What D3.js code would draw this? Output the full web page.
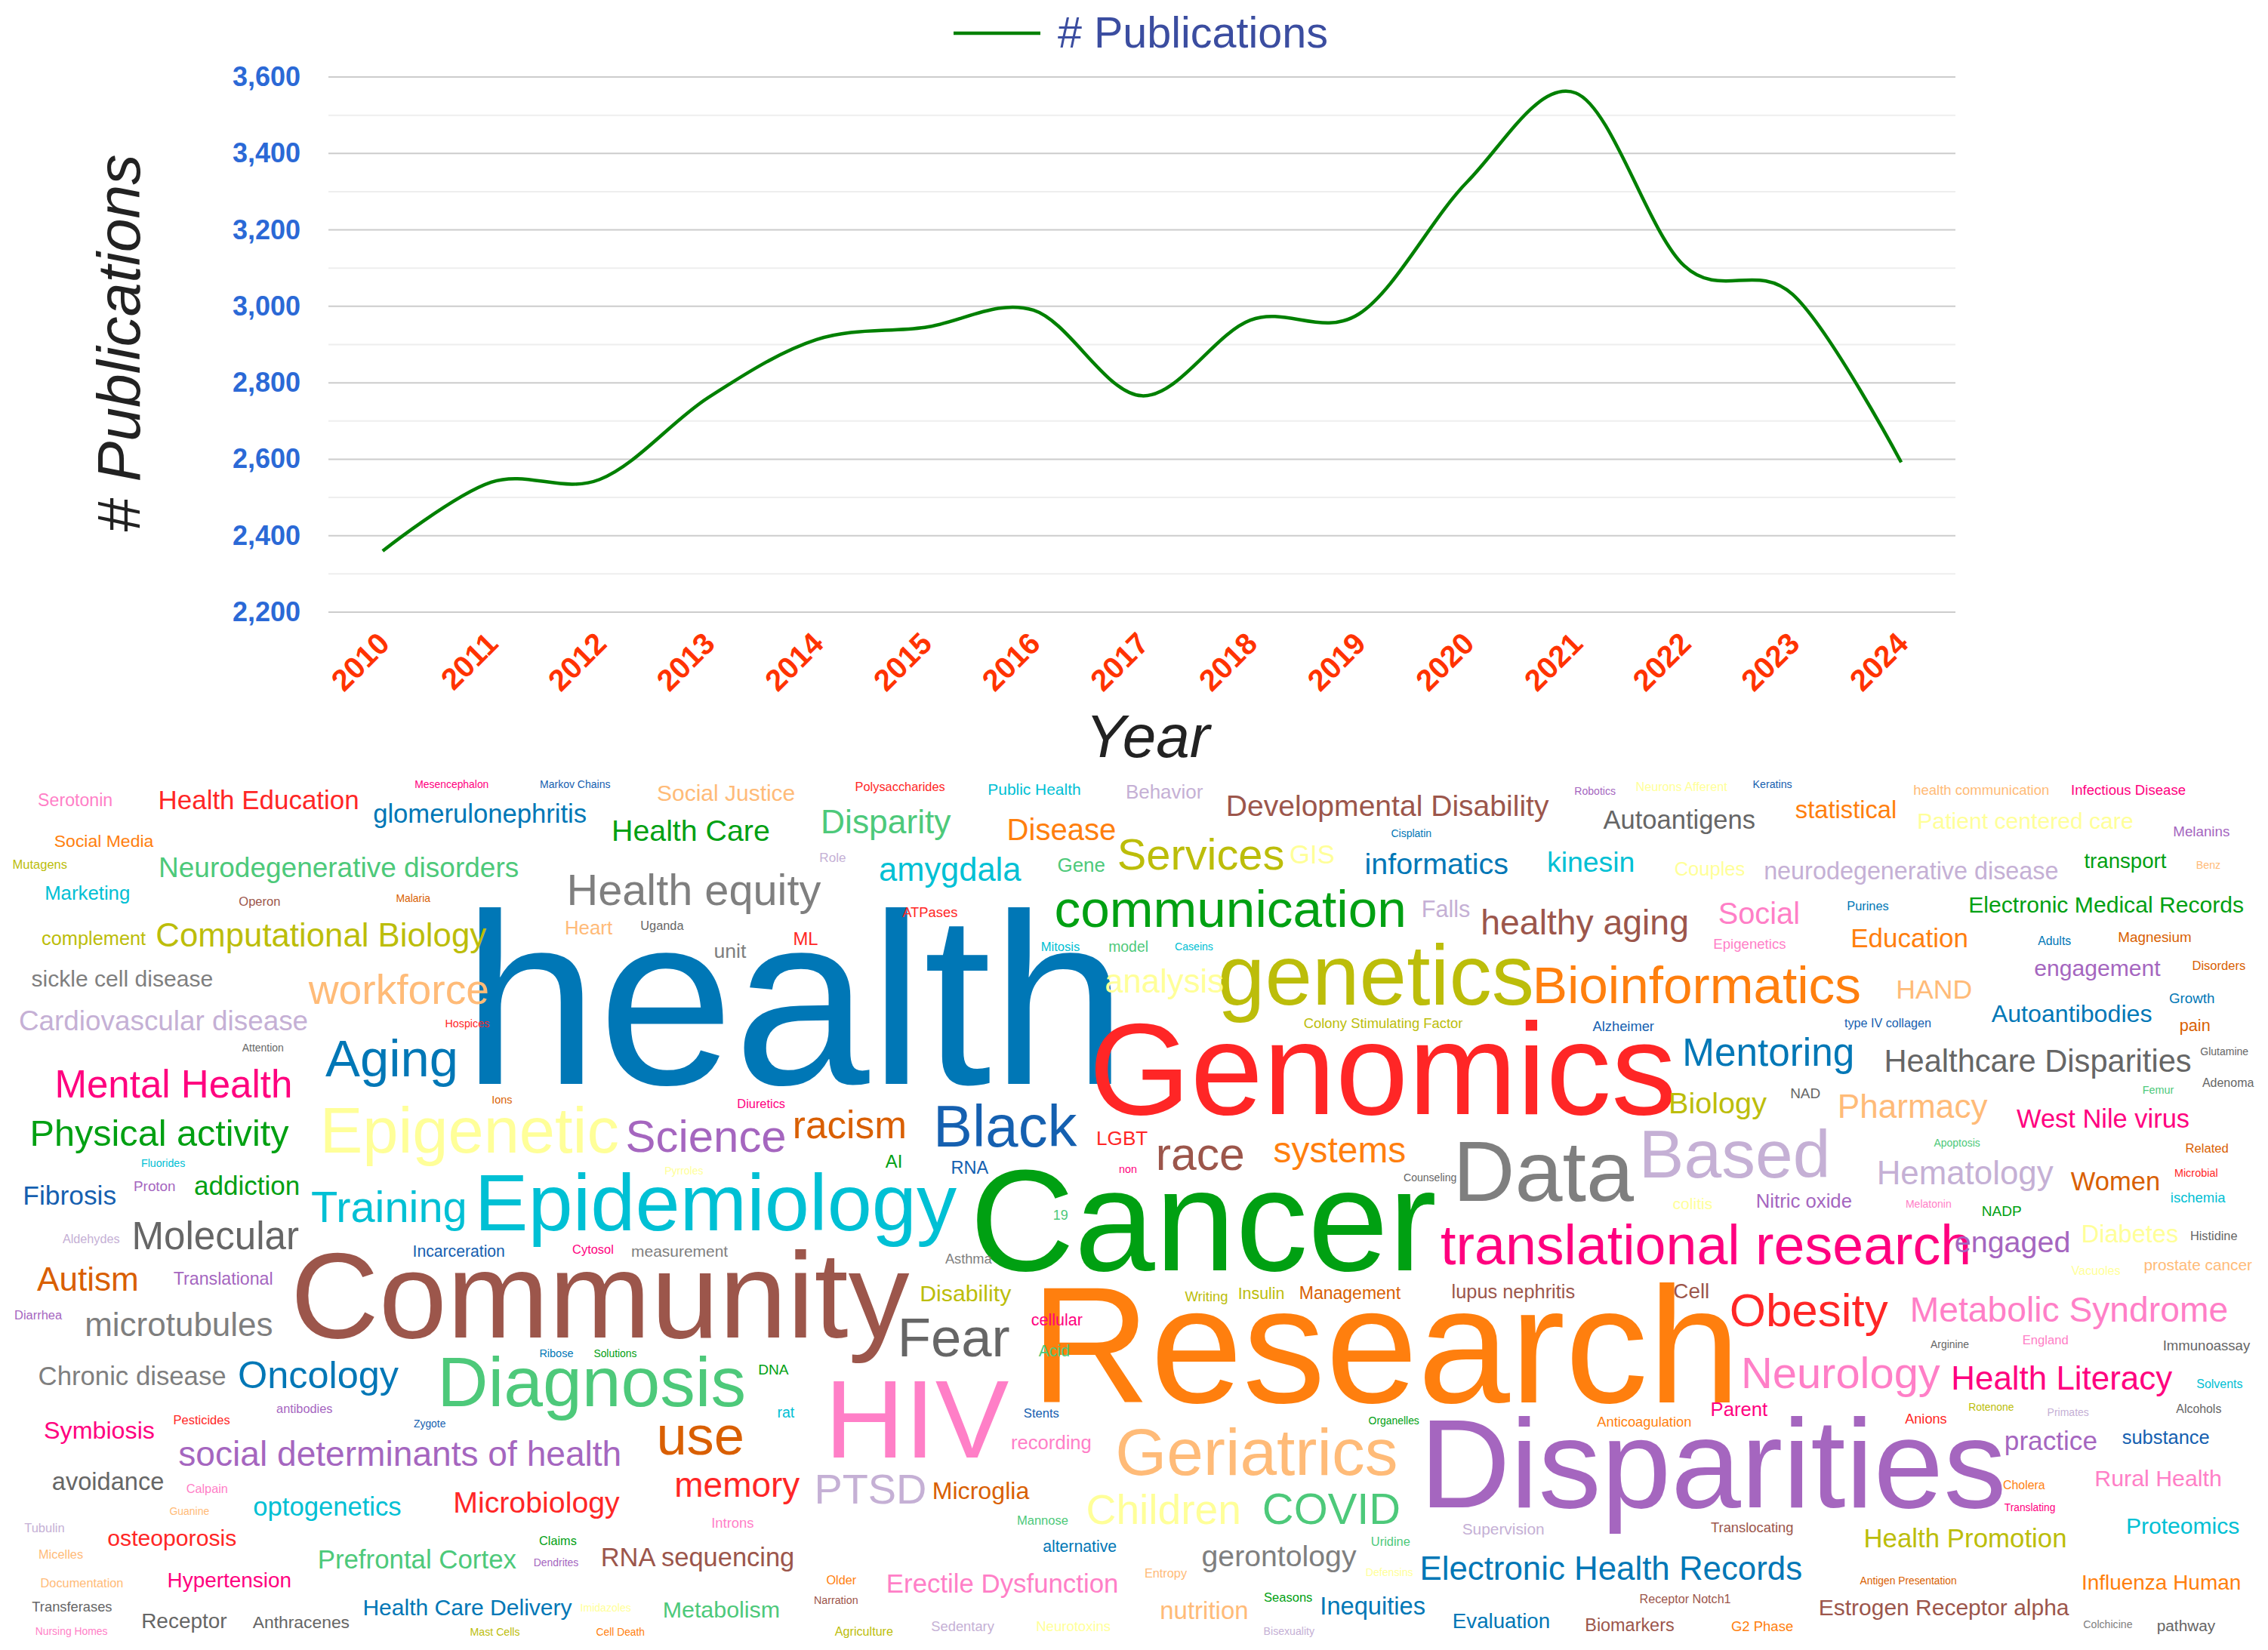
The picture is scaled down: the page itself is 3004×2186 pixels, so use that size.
<!DOCTYPE html>
<html><head><meta charset="utf-8">
<script src="https://d3js.org/d3.v7.min.js"></script>
<style>html,body{margin:0;padding:0;background:#fff}svg{display:block}text{font-family:"Liberation Sans",Arial,sans-serif}</style>
</head><body><svg id="c" width="3004" height="2186"></svg>
<script>
// ---- line chart data ----
const years = ["2010","2011","2012","2013","2014","2015","2016","2017","2018","2019","2020","2021","2022","2023","2024"];
const publications = [2360,2540,2547,2761,2913,2945,2990,2766,2964,2980,3326,3558,3106,3031,2592];
const majorTicks = [2200,2400,2600,2800,3000,3200,3400,3600];
const minorTicks = [2300,2500,2700,2900,3100,3300,3500];
const seriesName = "# Publications";
const xTitle = "Year";

// ---- word cloud: words per reference tile ----
const wordsA = ["Serotonin","Health Education","Mesencephalon","Markov Chains","Social Justice","glomerulonephritis","Health Care","Social Media","Mutagens","Neurodegenerative disorders","Marketing","Operon","Malaria","Health equity","Computational Biology","Heart","Uganda","unit","complement","sickle cell disease","workforce","Cardiovascular disease","Hospices","Attention","Aging","health","Mental Health","Ions","Diuretics","Physical activity","Epigenetic","Science","Fluorides","Pyrroles","Proton","addiction","Fibrosis","Training","Epidemiology"];
const wordsB = ["Polysaccharides","Public Health","Behavior","Developmental Disability","Disparity","Disease","Services","GIS","Cisplatin","Role","amygdala","Gene","informatics","communication","Falls","ATPases","ML","Mitosis","model","Caseins","analysis","genetics","Colony Stimulating Factor","Genomics","Black","racism","LGBT","race","systems","AI","RNA","non","Counseling","Data","Cancer"];
const wordsC = ["Robotics","Neurons Afferent","Keratins","health communication","Infectious Disease","Autoantigens","statistical","Patient centered care","Melanins","kinesin","Couples","neurodegenerative disease","transport","Benz","healthy aging","Social","Purines","Electronic Medical Records","Epigenetics","Education","Adults","Magnesium","engagement","Disorders","Bioinformatics","HAND","Growth","Autoantibodies","pain","Alzheimer","type IV collagen","Mentoring","Healthcare Disparities","Glutamine","Adenoma","NAD","Biology","Femur","Pharmacy","West Nile virus","Apoptosis","Related","Based","Hematology","Women","Microbial","ischemia","colitis","Nitric oxide","Melatonin","NADP"];
const wordsF = ["Aldehydes","Molecular","Incarceration","Cytosol","measurement","Autism","Translational","Community","Diarrhea","microtubules","Ribose","Solutions","Chronic disease","Oncology","Diagnosis","antibodies","Zygote","Symbiosis","Pesticides","use","social determinants of health","avoidance","Calpain","memory","Microbiology","optogenetics","Guanine","Introns","Tubulin","osteoporosis","Claims","Micelles","Prefrontal Cortex","Dendrites","RNA sequencing","Documentation","Hypertension","Transferases","Health Care Delivery","Imidazoles","Metabolism","Nursing Homes","Receptor","Anthracenes","Mast Cells","Cell Death"];
const wordsG = ["translational research","Asthma","Disability","Fear","Research","cellular","Acid","Writing","Insulin","Management","lupus nephritis","DNA","HIV","rat","Stents","Organelles","recording","Geriatrics","Disparities","PTSD","Microglia","Children","COVID","Mannose","Supervision","alternative","Uridine","gerontology","Electronic Health Records","Defensins","Entropy","Older","Erectile Dysfunction","Narration","Seasons","Inequities","nutrition","Evaluation","Agriculture","Sedentary","Neurotoxins","Bisexuality","19"];
const wordsH = ["engaged","Diabetes","Histidine","prostate cancer","Vacuoles","Cell","Obesity","Metabolic Syndrome","Arginine","England","Immunoassay","Neurology","Health Literacy","Solvents","Parent","Anticoagulation","Rotenone","Anions","Primates","Alcohols","practice","substance","Rural Health","Cholera","Translating","Translocating","Proteomics","Health Promotion","Antigen Presentation","Influenza Human","Estrogen Receptor alpha","Receptor Notch1","Biomarkers","G2 Phase","Colchicine","pathway"];

// ---- word cloud: colour key per word ----
const huesA = "k r m u e b g o y t c n d a y e s a y a e v r s b b m d m g l p c l p g u c c".split(" ");
const huesB = "r c v n t o y l b v c t b g v r r c t c l y y r u d r n o g u m s a g".split(" ");
const huesC = "p l u e m s o l p c l v g e n k b g k o b d p d o e b b d u u b s s s s y t e m t d v v d r c l p k g".split(" ");
const huesF = "v s u m a d p n p a b g a b t p u m r d p s k r r c e k v r g e t p n e m s b l t k s s y o".split(" ");
const huesG = "m a y s o m t y y d n g k c u g k e p v d l t t v b t a b l e o k n g b e b y v l v t".split(" ");
const huesH = "p l s e l n r k s k s k m c m o y r v s p u k o m n c y d o n n n o a s".split(" ");

const palette = {b:"#0077b6",o:"#ff7f0e",g:"#00a012",r:"#ff2626",p:"#a566bf",n:"#9c564b",k:"#ff7fc7",a:"#7f7f7f",y:"#bcbd0a",c:"#00c0d4",l:"#ffff99",v:"#c5b0d5",e:"#ffbb78",m:"#ff007f",d:"#d95f02",s:"#666666",t:"#4dc97a",u:"#1560b0"};

// ---- word cloud layout, kept apart from the words: [left, right, baseline] in tile units ----
const spansA = [[80,232,125],[333,743,135],[863,1014,64],[1123,1267,64],[1366,1650,107],[777,1217,183],[1275,1597,245],[114,319,266],[28,139,342],[334,1076,372],[96,268,450],[497,581,470],[824,894,458],[1184,1705,468],[327,1010,612],[1176,1272,570],[1332,1420,555],[1485,1550,652],[88,303,605],[66,441,750],[640,1013,810],[42,638,902],[926,1016,890],[503,588,975],[676,946,1060],[991,2312,1087],[120,603,1135],[1023,1063,1155],[1533,1630,1170],[68,600,1302],[675,1283,1325],[1303,1630,1322],[295,384,1375],[1382,1460,1400],[280,363,1457],[405,620,1470],[52,240,1505],[648,965,1565],[999,1987,1594]];
const spansB = [[210,394,73],[486,675,85],[773,930,100],[983,1649,160],[142,407,220],[528,748,243],[756,1097,345],[1113,1202,323],[1322,1404,232],[136,188,318],[260,553,385],[630,726,354],[1270,1563,360],[626,1347,543],[1388,1484,510],[306,420,510],[82,130,605],[596,674,627],[736,815,630],[873,951,625],[729,972,770],[968,1613,812],[1141,1470,893],[707,1906,1192],[380,670,1303],[83,310,1275],[712,815,1298],[838,1014,1386],[1078,1350,1358],[271,303,1377],[410,485,1397],[757,792,1396],[1348,1456,1425],[1464,1826,1492],[461,1412,1732]];
const spansC = [[135,218,85],[262,451,72],[504,583,64],[836,1114,85],[1163,1397,85],[193,506,205],[591,797,168],[846,1288,205],[1374,1488,230],[80,255,352],[342,485,365],[528,1133,378],[1188,1358,340],[1421,1469,342],[-56,366,570],[433,596,533],[699,783,485],[952,1517,495],[423,570,620],[709,945,615],[1092,1160,606],[1260,1408,595],[1086,1346,714],[1413,1521,692],[55,723,808],[803,954,793],[1365,1456,808],[996,1327,872],[1387,1447,903],[171,298,903],[692,870,892],[363,708,1025],[779,1408,1045],[1429,1527,987],[1432,1539,1097],[582,641,1136],[333,531,1190],[1310,1373,1120],[683,988,1205],[1048,1404,1240],[877,972,1305],[1399,1485,1325],[278,655,1410],[764,1124,1435],[1160,1342,1455],[1376,1463,1408],[1368,1480,1497],[338,418,1520],[512,706,1517],[820,912,1517],[978,1057,1545]];
const spansF = [[130,248,125],[280,620,148],[860,1047,175],[1190,1273,162],[1313,1512,175],[77,284,295],[361,565,274],[616,1889,460],[32,129,395],[180,565,455],[1122,1190,530],[1234,1322,530],[82,468,630],[497,828,640],[920,1545,705],[575,690,727],[860,925,778],[93,320,818],[362,477,768],[1370,1542,875],[372,1287,915],[110,339,1000],[388,472,1012],[1405,1661,1025],[946,1287,1082],[528,832,1092],[353,434,1088],[1480,1565,1135],[51,133,1150],[225,490,1198],[1121,1197,1195],[82,172,1243],[664,1072,1280],[1110,1201,1272],[1252,1650,1272],[86,255,1347],[351,603,1347],[67,232,1432],[757,1188,1445],[1207,1310,1432],[1380,1617,1452],[75,223,1515],[297,471,1490],[525,725,1490],[978,1079,1518],[1239,1338,1518]];
const spansG = [[1425,2520,200],[395,492,197],[346,532,332],[305,528,528],[600,2027,690],[575,680,418],[589,652,528],[893,981,332],[1006,1098,325],[1133,1341,325],[1449,1702,322],[9,70,592],[163,528,887],[48,82,743],[559,631,745],[1275,1379,768],[534,697,855],[755,1331,948],[1401,2591,1063],[130,353,1050],[372,570,1033],[692,1005,1122],[1058,1337,1122],[546,650,1125],[1470,1638,1158],[599,750,1220],[1281,1360,1198],[930,1249,1272],[1386,2173,1320],[1270,1366,1305],[811,897,1310],[149,210,1335],[277,752,1365],[124,213,1405],[1058,1157,1397],[1178,1391,1443],[844,1022,1458],[1452,1649,1490],[166,286,1518],[367,497,1502],[586,738,1502],[1058,1162,1515],[621,649,42]];
const spansH = [[922,1156,158],[1186,1381,122],[1409,1504,115],[1313,1535,222],[1161,1262,238],[340,410,320],[458,782,420],[833,1483,405],[870,949,497],[1062,1154,485],[1353,1531,505],[485,890,640],[918,1370,645],[1421,1515,640],[418,533,738],[180,374,777],[950,1042,720],[817,903,765],[1113,1197,738],[1378,1471,727],[1026,1213,860],[1267,1446,838],[1213,1470,988],[1021,1107,998],[1023,1127,1075],[416,585,1150],[1278,1508,1157],[736,1149,1205],[724,923,1335],[1186,1510,1355],[642,1157,1445],[270,456,1403],[158,339,1502],[459,585,1502],[1187,1287,1490],[1340,1459,1500]];

const tiles = [
 {w:wordsA,h:huesA,s:spansA,frame:[0,1020,1000,600]},
 {w:wordsB,h:huesB,s:spansB,frame:[1000,1020,1000,600]},
 {w:wordsC,h:huesC,s:spansC,frame:[2000,1020,1004,600]},
 {w:wordsF,h:huesF,s:spansF,frame:[0,1600,1000,586]},
 {w:wordsG,h:huesG,s:spansG,frame:[1000,1600,1000,586]},
 {w:wordsH,h:huesH,s:spansH,frame:[2000,1600,1004,586]}
];

const svg = d3.select("#c");
const plot = {left:435,right:2590,top:102,bottom:811};

const x = d3.scalePoint().domain(years).range([plot.left,plot.right]).padding(0.5);
const y = d3.scaleLinear().domain([2200,3600]).range([plot.bottom,plot.top]);

// gridlines
svg.append("g").selectAll("line").data(minorTicks).join("line")
  .attr("x1",plot.left).attr("x2",plot.right).attr("y1",d=>y(d)).attr("y2",d=>y(d))
  .attr("stroke","#eeeeee").attr("stroke-width",2);
svg.append("g").selectAll("line").data(majorTicks).join("line")
  .attr("x1",plot.left).attr("x2",plot.right).attr("y1",d=>y(d)).attr("y2",d=>y(d))
  .attr("stroke","#cccccc").attr("stroke-width",2);

// axes
const yAxis = svg.append("g").attr("transform",`translate(${plot.left},0)`)
  .call(d3.axisLeft(y).tickValues(majorTicks).tickFormat(d3.format(",")).tickSize(0).tickPadding(37));
yAxis.select(".domain").remove();
yAxis.selectAll("text").attr("font-size",36).attr("font-weight","bold").attr("fill","#2b69d6");

const xAxis = svg.append("g").attr("transform",`translate(0,${plot.bottom})`)
  .call(d3.axisBottom(x).tickSize(0).tickPadding(0));
xAxis.select(".domain").remove();
xAxis.selectAll("text").attr("font-size",40).attr("font-weight","bold").attr("fill","#ff3300")
  .attr("text-anchor","end").attr("dy",0)
  .attr("transform",d=>`translate(11,44) rotate(-45)`).attr("y",0).attr("x",0);

// series
const line = d3.line().x((d,i)=>x(years[i])).y(d=>y(d)).curve(d3.curveCardinal.tension(0));
svg.append("path").datum(publications).attr("d",line).attr("fill","none").attr("stroke","#008000").attr("stroke-width",4.5);

// legend
svg.append("line").attr("x1",1263).attr("x2",1378).attr("y1",44).attr("y2",44).attr("stroke","#008000").attr("stroke-width",4.5);
svg.append("text").attr("x",1401).attr("y",63).attr("font-size",57.5).attr("fill","#3b4da0").text(seriesName);

// titles
svg.append("text").attr("transform","translate(185,455) rotate(-90)").attr("text-anchor","middle")
  .attr("font-size",80.5).attr("font-style","italic").attr("fill","#222").text(seriesName);
svg.append("text").attr("x",1520).attr("y",1003).attr("text-anchor","middle")
  .attr("font-size",80).attr("font-style","italic").attr("fill","#222").text(xTitle);

// word cloud: each word is sized so its ink fills its measured span
const ctx = document.createElement("canvas").getContext("2d");
ctx.font = '100px "Liberation Sans"';
const placed = tiles.flatMap(t=>{
  const sx = d3.scaleLinear().domain([0,1568]).range([t.frame[0],t.frame[0]+t.frame[2]]);
  const sy = d3.scaleLinear().domain([0,1568]).range([t.frame[1],t.frame[1]+t.frame[3]]);
  return t.w.map((word,i)=>{
    const [l,r,b] = t.s[i];
    const left = sx(l), right = sx(r);
    const m = ctx.measureText(word);
    const ink = m.actualBoundingBoxLeft + m.actualBoundingBoxRight;
    const size = 100*(right-left)/ink;
    return {word,color:palette[t.h[i]],x:left+m.actualBoundingBoxLeft*size/100,y:sy(b),size};
  });
}).sort((p,q)=>q.size-p.size);

svg.append("g").selectAll("text").data(placed).join("text")
  .attr("x",d=>d.x).attr("y",d=>d.y).attr("font-size",d=>d.size).attr("fill",d=>d.color).text(d=>d.word);
</script></body></html>
